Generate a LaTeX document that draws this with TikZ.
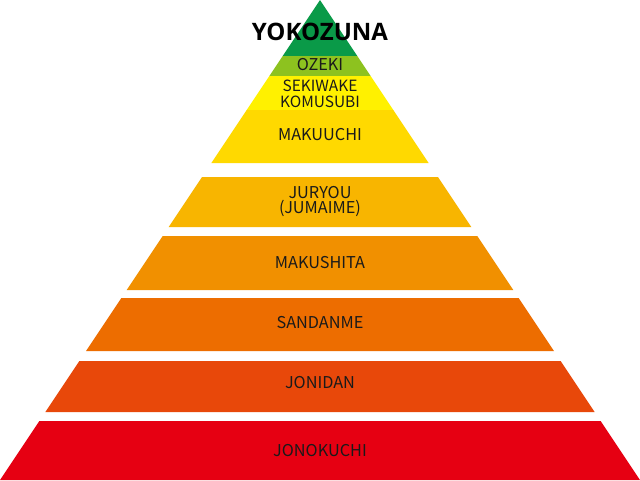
\documentclass[tikz,border=0pt]{standalone}
\usepackage{fontspec}
\newfontfamily\labelfont{Noto Sans CJK JP}
\newfontfamily\titlefont{Open Sans}
\definecolor{cYoko}{HTML}{0A9A48}
\definecolor{cOzeki}{HTML}{8DC21F}
\definecolor{cSeki}{HTML}{FFF100}
\definecolor{cMaku}{HTML}{FFD900}
\definecolor{cJuryo}{HTML}{F8B500}
\definecolor{cMakushita}{HTML}{F19000}
\definecolor{cSandan}{HTML}{ED6D00}
\definecolor{cJonidan}{HTML}{E8480A}
\definecolor{cJonokuchi}{HTML}{E60012}
\definecolor{cText}{HTML}{1A1A1A}
\newcommand\pyrband[3]{\fill[#3] ({320-2*#1/3},#1) -- ({320+2*#1/3},#1) -- ({320+2*#2/3},#2) -- ({320-2*#2/3},#2) -- cycle;}
\begin{document}
\begin{tikzpicture}[x=0.75pt,y=-0.75pt,
  lbl/.style={text=cText,font=\labelfont\fontsize{12.2}{12}\selectfont,inner sep=0pt,align=center},
  lblsmall/.style={text=cText,font=\labelfont\fontsize{11.6}{12}\selectfont,inner sep=0pt,align=center},
  ttl/.style={text=black,font=\titlefont\bfseries\fontsize{18}{20}\selectfont,inner sep=0pt}]
\useasboundingbox (0,0) rectangle (640,480);
\fill[white] (0,0) rectangle (640,480);
\fill[cYoko] (320,0) -- ({320+2*56/3},56) -- ({320-2*56/3},56) -- cycle;
\pyrband{56}{76}{cOzeki}
\pyrband{76}{110.5}{cSeki}
\pyrband{110}{163}{cMaku}
\pyrband{177}{227}{cJuryo}
\pyrband{236}{290}{cMakushita}
\pyrband{298}{351}{cSandan}
\pyrband{361}{412}{cJonidan}
\pyrband{421}{480}{cJonokuchi}
\node[ttl] (yoko) at (320,31.7) {YOKOZUNA};
\node[lbl] (ozeki) at (320,65) {OZEKI};
\node[lblsmall] (seki) at (320,86.3) {SEKIWAKE};
\node[lblsmall] (komu) at (320,102.3) {KOMUSUBI};
\node[lbl] (makuuchi) at (320,135) {MAKUUCHI};
\node[lbl] (juryou) at (320,193) {JURYOU};
\node[lbl] (jumaime) at (320,208.7) {(JUMAIME)};
\node[lbl] (makushita) at (320,263) {MAKUSHITA};
\node[lbl] (sandanme) at (320,323) {SANDANME};
\node[lbl] (jonidan) at (320,382.8) {JONIDAN};
\node[lbl] (jonokuchi) at (320,450.7) {JONOKUCHI};
\end{tikzpicture}
\end{document}
